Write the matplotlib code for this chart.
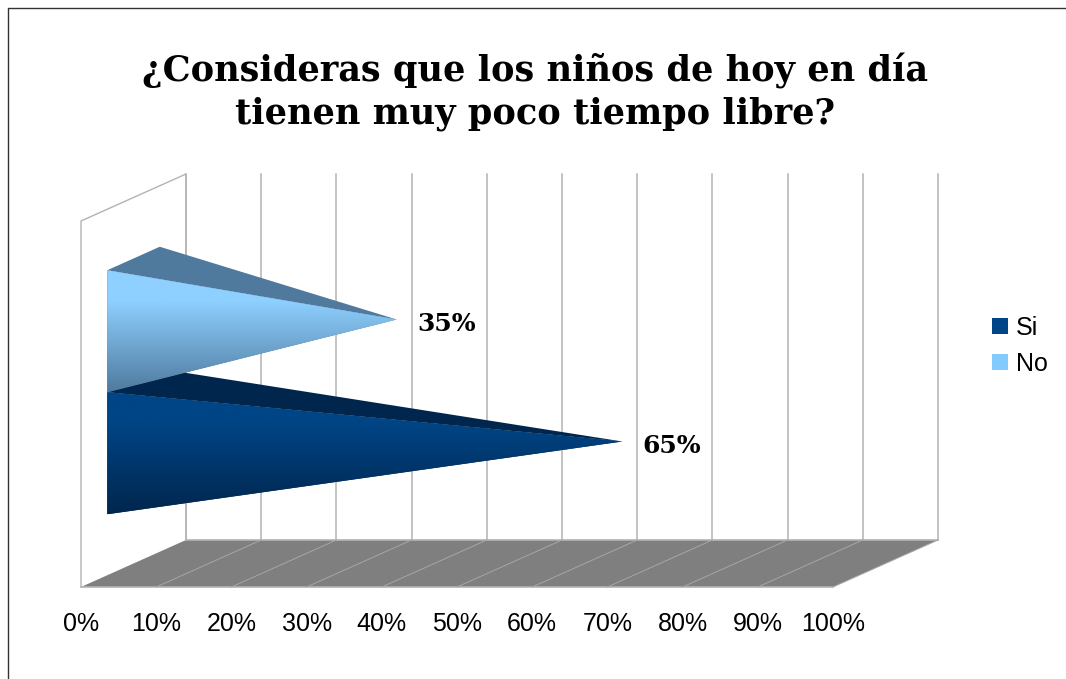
import numpy as np
import matplotlib
matplotlib.use("Agg")
import matplotlib.pyplot as plt
from matplotlib.colors import LinearSegmentedColormap
from matplotlib.lines import Line2D
from matplotlib.patches import Polygon, Rectangle

series_names = ["Si", "No"]
series_values = [65, 35]
tick_values = [0, 10, 20, 30, 40, 50, 60, 70, 80, 90, 100]
tick_labels = ["0%", "10%", "20%", "30%", "40%", "50%", "60%", "70%", "80%", "90%", "100%"]
value_labels = ["65%", "35%"]
title_text = "¿Consideras que los niños de hoy en día\ntienen muy poco tiempo libre?"
face_top = ["#004586", "#8ed0ff"]
face_bottom = ["#00264d", "#4f7a9e"]
lid_colors = ["#00264d", "#4f7a9e"]
legend_colors = ["#004586", "#83caff"]

W, H = 1066, 679
fig = plt.figure(figsize=(W / 100, H / 100), dpi=100, facecolor="white")
L, R, T, B = 81, 833, 221, 587
ax = fig.add_axes([L / W, 1 - B / H, (R - L) / W, (B - T) / H])
ax.set_facecolor("none")
XMAX, YMAX = 100, 2
DX = 105 / (R - L) * XMAX      # oblique depth offset, data units
DY = 47 / (B - T) * YMAX


def proj(x, y, d):
    return x + d * DX, y + d * DY


def poly(points, **kw):
    p = Polygon([proj(*q) for q in points], closed=True, clip_on=False, **kw)
    ax.add_patch(p)
    return p


GRID = "#b3b3b3"
# floor
poly([(0, 0, 0), (100, 0, 0), (100, 0, 1), (0, 0, 1)], facecolor="#7f7f7f", edgecolor="none", zorder=1)
# left wall outline
wall = [(0, 0, 0), (0, YMAX, 0), (0, YMAX, 1), (0, 0, 1)]
xs, ys = zip(*[proj(*q) for q in wall])
ax.plot(xs, ys, color=GRID, lw=1, clip_on=False, zorder=2)
ax.plot(*zip(proj(0, 0, 0), proj(100, 0, 0)), color=GRID, lw=1.2, clip_on=False, zorder=2)
ax.plot(*zip(proj(0, 0, 1), proj(100, 0, 1)), color=GRID, lw=1.2, clip_on=False, zorder=2)
for v in tick_values:
    ax.plot(*zip(proj(v, 0, 1), proj(v, YMAX, 1)), color=GRID, lw=1.1, clip_on=False, zorder=2)
    if v:
        ax.plot(*zip(proj(v, 0, 0), proj(v, 0, 1)), color="#a6a6a6", lw=0.7, clip_on=False, zorder=2)

# pyramids
bar_h = 2 / 3
bar_centres = [2 / 3, 4 / 3]
d0, d1 = 0.25, 0.75
for i, val in enumerate(series_values):
    c = bar_centres[i]
    lo, hi = c - bar_h / 2, c + bar_h / 2
    apex = (val, c, 0.5)
    z = 3 + i
    poly([(0, hi, d0), (0, hi, d1), apex], facecolor=lid_colors[i], edgecolor="none", zorder=z)
    front = poly([(0, hi, d0), (0, lo, d0), apex], facecolor=face_bottom[i], edgecolor="none", zorder=z)
    cmap = LinearSegmentedColormap.from_list("g", [(0, face_bottom[i]), (0.75, face_top[i]), (1, face_top[i])])
    x0, yl = proj(0, lo, d0)
    _, yh = proj(0, hi, d0)
    im = ax.imshow(np.linspace(1, 0, 256).reshape(-1, 1), cmap=cmap, aspect="auto", origin="upper",
                   extent=(x0, proj(val, 0, 0.5)[0], yl, yh), zorder=z + 0.1, interpolation="bilinear")
    im.set_clip_path(front)
    ax.annotate(value_labels[i], xy=proj(*apex), xytext=(14.5, -3.5), textcoords="offset points",
                ha="left", va="center", family="DejaVu Serif", weight="bold", fontsize=18,
                color="black", annotation_clip=False, zorder=6)

ax.set_xlim(0, XMAX)
ax.set_ylim(0, YMAX)
ax.set_yticks([])
ax.set_xticks(tick_values)
ax.set_xticklabels(tick_labels, family="Liberation Sans", fontsize=18, color="black")
ax.tick_params(axis="x", length=0, pad=18)
for s in ax.spines.values():
    s.set_visible(False)

# title
fig.text(535 / W, 1 - 92 / H, title_text, ha="center", va="center", family="DejaVu Serif", weight="bold",
         fontsize=25.3, linespacing=1.26, color="black")

# legend
for name, col, yc in zip(series_names, legend_colors, [326, 362]):
    fig.add_artist(Rectangle((992 / W, 1 - (yc + 8) / H), 16 / W, 16 / H, transform=fig.transFigure,
                             facecolor=col, edgecolor="none"))
    fig.text(1016 / W, 1 - (yc + 2) / H, name, ha="left", va="center", family="Liberation Sans",
             fontsize=18, color="black")

# outer frame
fig.add_artist(Line2D([7.5 / W, 7.5 / W, 1], [0, 1 - 7.5 / H, 1 - 7.5 / H], transform=fig.transFigure,
                      color="#333333", lw=1))
fig.savefig("out.png", dpi=100)
